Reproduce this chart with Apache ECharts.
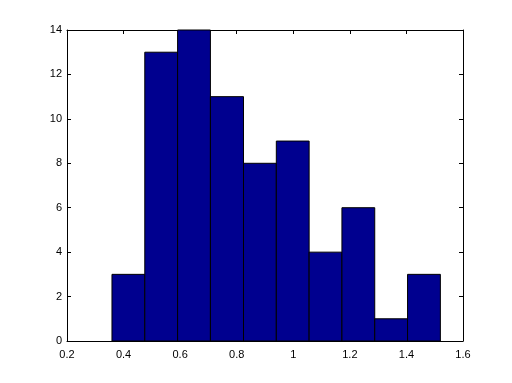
<!DOCTYPE html>
<html><head><meta charset="utf-8">
<script src="https://cdn.jsdelivr.net/npm/echarts@6/dist/echarts.min.js"></script>
<style>html,body{margin:0;padding:0;background:#fff}#c{width:512px;height:383px}</style>
</head><body><div id="c"></div>
<script>
var binEdges = [0.359, 0.475, 0.591, 0.707, 0.824, 0.940, 1.056, 1.172, 1.288, 1.404, 1.520];
var counts = [3, 13, 14, 11, 8, 9, 4, 6, 1, 3];
var xTicks = [0.2, 0.4, 0.6, 0.8, 1, 1.2, 1.4, 1.6];
var yTicks = [0, 2, 4, 6, 8, 10, 12, 14];

var data = counts.map(function (c, i) { return [binEdges[i], binEdges[i + 1], c]; });
var font = {fontFamily: 'Liberation Sans, Arial, sans-serif', fontSize: 11, color: '#000'};
function axisBase(extra) {
  var a = {
    axisLine: {show: true, onZero: false, lineStyle: {color: '#000', width: 1}},
    axisTick: {show: true, inside: true, length: 4, lineStyle: {color: '#000'}},
    splitLine: {show: false}
  };
  for (var k in extra) a[k] = extra[k];
  return a;
}
var chart = echarts.init(document.getElementById('c'), null, {renderer: 'canvas'});
chart.setOption({
  animation: false,
  backgroundColor: '#fff',
  grid: {left: 67, top: 30, right: 49, bottom: 42, containLabel: false},
  xAxis: [
    axisBase({type: 'value', min: xTicks[0], max: xTicks[xTicks.length - 1], interval: 0.2, position: 'bottom',
      axisLabel: Object.assign({margin: 8, formatter: function (v) { return String(Math.round(v * 10) / 10); }}, font)}),
    axisBase({type: 'value', min: xTicks[0], max: xTicks[xTicks.length - 1], interval: 0.2, position: 'top',
      axisLabel: {show: false}})
  ],
  yAxis: [
    axisBase({type: 'value', min: yTicks[0], max: yTicks[yTicks.length - 1], interval: 2, position: 'left',
      axisLabel: Object.assign({margin: 5}, font)}),
    axisBase({type: 'value', min: yTicks[0], max: yTicks[yTicks.length - 1], interval: 2, position: 'right',
      axisLabel: {show: false}})
  ],
  series: [{
    type: 'custom',
    xAxisIndex: 0, yAxisIndex: 0,
    data: data,
    renderItem: function (params, api) {
      var p0 = api.coord([api.value(0), 0]);
      var p1 = api.coord([api.value(1), api.value(2)]);
      return {
        type: 'rect',
        shape: {x: p0[0], y: p1[1], width: p1[0] - p0[0], height: p0[1] - p1[1]},
        style: {fill: '#00008F', stroke: '#000', lineWidth: 1}
      };
    },
    z: 1
  }]
});
</script></body></html>
